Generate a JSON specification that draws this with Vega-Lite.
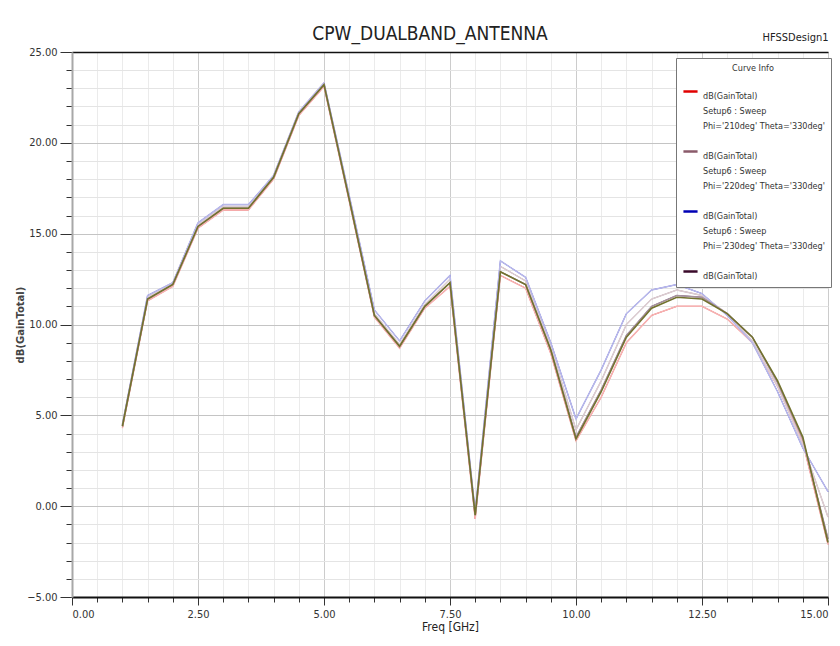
{
  "$schema": "https://vega.github.io/schema/vega-lite/v6.json",
  "autosize": {"type": "none"},
  "padding": {"left": 72, "top": 52, "right": 12, "bottom": 49},
  "width": 756,
  "height": 545,
  "background": "white",
  "title": {
    "text": "CPW_DUALBAND_ANTENNA",
    "font": "'Liberation Sans Narrow', 'DejaVu Sans Condensed', 'Liberation Sans', sans-serif",
    "fontSize": 19,
    "fontWeight": "normal",
    "color": "#222",
    "anchor": "middle",
    "dx": -20,
    "dy": 21,
    "offset": 8
  },
  "data": {
    "values": [
      {"curve": "Phi='210deg' Theta='330deg'", "freq": 1, "gain": 4.3},
      {"curve": "Phi='210deg' Theta='330deg'", "freq": 1.5, "gain": 11.3},
      {"curve": "Phi='210deg' Theta='330deg'", "freq": 2, "gain": 12.1},
      {"curve": "Phi='210deg' Theta='330deg'", "freq": 2.5, "gain": 15.3},
      {"curve": "Phi='210deg' Theta='330deg'", "freq": 3, "gain": 16.3},
      {"curve": "Phi='210deg' Theta='330deg'", "freq": 3.5, "gain": 16.3},
      {"curve": "Phi='210deg' Theta='330deg'", "freq": 4, "gain": 18.0},
      {"curve": "Phi='210deg' Theta='330deg'", "freq": 4.5, "gain": 21.5},
      {"curve": "Phi='210deg' Theta='330deg'", "freq": 5, "gain": 23.1},
      {"curve": "Phi='210deg' Theta='330deg'", "freq": 5.5, "gain": 16.8},
      {"curve": "Phi='210deg' Theta='330deg'", "freq": 6, "gain": 10.4},
      {"curve": "Phi='210deg' Theta='330deg'", "freq": 6.5, "gain": 8.7},
      {"curve": "Phi='210deg' Theta='330deg'", "freq": 7, "gain": 10.9},
      {"curve": "Phi='210deg' Theta='330deg'", "freq": 7.5, "gain": 12.1},
      {"curve": "Phi='210deg' Theta='330deg'", "freq": 8, "gain": -0.7},
      {"curve": "Phi='210deg' Theta='330deg'", "freq": 8.5, "gain": 12.7},
      {"curve": "Phi='210deg' Theta='330deg'", "freq": 9, "gain": 12.0},
      {"curve": "Phi='210deg' Theta='330deg'", "freq": 9.5, "gain": 8.4},
      {"curve": "Phi='210deg' Theta='330deg'", "freq": 10, "gain": 3.6},
      {"curve": "Phi='210deg' Theta='330deg'", "freq": 10.5, "gain": 6.0},
      {"curve": "Phi='210deg' Theta='330deg'", "freq": 11, "gain": 9.0},
      {"curve": "Phi='210deg' Theta='330deg'", "freq": 11.5, "gain": 10.5},
      {"curve": "Phi='210deg' Theta='330deg'", "freq": 12, "gain": 11.0},
      {"curve": "Phi='210deg' Theta='330deg'", "freq": 12.5, "gain": 11.0},
      {"curve": "Phi='210deg' Theta='330deg'", "freq": 13, "gain": 10.3},
      {"curve": "Phi='210deg' Theta='330deg'", "freq": 13.5, "gain": 9.0},
      {"curve": "Phi='210deg' Theta='330deg'", "freq": 14, "gain": 6.6},
      {"curve": "Phi='210deg' Theta='330deg'", "freq": 14.5, "gain": 3.5},
      {"curve": "Phi='210deg' Theta='330deg'", "freq": 15, "gain": -2.1},

      {"curve": "Phi='220deg' Theta='330deg'", "freq": 1, "gain": 4.5},
      {"curve": "Phi='220deg' Theta='330deg'", "freq": 1.5, "gain": 11.5},
      {"curve": "Phi='220deg' Theta='330deg'", "freq": 2, "gain": 12.3},
      {"curve": "Phi='220deg' Theta='330deg'", "freq": 2.5, "gain": 15.5},
      {"curve": "Phi='220deg' Theta='330deg'", "freq": 3, "gain": 16.5},
      {"curve": "Phi='220deg' Theta='330deg'", "freq": 3.5, "gain": 16.5},
      {"curve": "Phi='220deg' Theta='330deg'", "freq": 4, "gain": 18.2},
      {"curve": "Phi='220deg' Theta='330deg'", "freq": 4.5, "gain": 21.7},
      {"curve": "Phi='220deg' Theta='330deg'", "freq": 5, "gain": 23.3},
      {"curve": "Phi='220deg' Theta='330deg'", "freq": 5.5, "gain": 17.0},
      {"curve": "Phi='220deg' Theta='330deg'", "freq": 6, "gain": 10.6},
      {"curve": "Phi='220deg' Theta='330deg'", "freq": 6.5, "gain": 8.9},
      {"curve": "Phi='220deg' Theta='330deg'", "freq": 7, "gain": 11.1},
      {"curve": "Phi='220deg' Theta='330deg'", "freq": 7.5, "gain": 12.5},
      {"curve": "Phi='220deg' Theta='330deg'", "freq": 8, "gain": -0.4},
      {"curve": "Phi='220deg' Theta='330deg'", "freq": 8.5, "gain": 13.2},
      {"curve": "Phi='220deg' Theta='330deg'", "freq": 9, "gain": 12.4},
      {"curve": "Phi='220deg' Theta='330deg'", "freq": 9.5, "gain": 8.8},
      {"curve": "Phi='220deg' Theta='330deg'", "freq": 10, "gain": 4.2},
      {"curve": "Phi='220deg' Theta='330deg'", "freq": 10.5, "gain": 6.9},
      {"curve": "Phi='220deg' Theta='330deg'", "freq": 11, "gain": 10.0},
      {"curve": "Phi='220deg' Theta='330deg'", "freq": 11.5, "gain": 11.4},
      {"curve": "Phi='220deg' Theta='330deg'", "freq": 12, "gain": 11.9},
      {"curve": "Phi='220deg' Theta='330deg'", "freq": 12.5, "gain": 11.6},
      {"curve": "Phi='220deg' Theta='330deg'", "freq": 13, "gain": 10.6},
      {"curve": "Phi='220deg' Theta='330deg'", "freq": 13.5, "gain": 9.1},
      {"curve": "Phi='220deg' Theta='330deg'", "freq": 14, "gain": 6.6},
      {"curve": "Phi='220deg' Theta='330deg'", "freq": 14.5, "gain": 3.4},
      {"curve": "Phi='220deg' Theta='330deg'", "freq": 15, "gain": -0.6},

      {"curve": "Phi='230deg' Theta='330deg'", "freq": 1, "gain": 4.5},
      {"curve": "Phi='230deg' Theta='330deg'", "freq": 1.5, "gain": 11.6},
      {"curve": "Phi='230deg' Theta='330deg'", "freq": 2, "gain": 12.3},
      {"curve": "Phi='230deg' Theta='330deg'", "freq": 2.5, "gain": 15.6},
      {"curve": "Phi='230deg' Theta='330deg'", "freq": 3, "gain": 16.6},
      {"curve": "Phi='230deg' Theta='330deg'", "freq": 3.5, "gain": 16.6},
      {"curve": "Phi='230deg' Theta='330deg'", "freq": 4, "gain": 18.2},
      {"curve": "Phi='230deg' Theta='330deg'", "freq": 4.5, "gain": 21.7},
      {"curve": "Phi='230deg' Theta='330deg'", "freq": 5, "gain": 23.3},
      {"curve": "Phi='230deg' Theta='330deg'", "freq": 5.5, "gain": 17.1},
      {"curve": "Phi='230deg' Theta='330deg'", "freq": 6, "gain": 10.8},
      {"curve": "Phi='230deg' Theta='330deg'", "freq": 6.5, "gain": 9.1},
      {"curve": "Phi='230deg' Theta='330deg'", "freq": 7, "gain": 11.3},
      {"curve": "Phi='230deg' Theta='330deg'", "freq": 7.5, "gain": 12.7},
      {"curve": "Phi='230deg' Theta='330deg'", "freq": 8, "gain": -0.3},
      {"curve": "Phi='230deg' Theta='330deg'", "freq": 8.5, "gain": 13.5},
      {"curve": "Phi='230deg' Theta='330deg'", "freq": 9, "gain": 12.6},
      {"curve": "Phi='230deg' Theta='330deg'", "freq": 9.5, "gain": 9.0},
      {"curve": "Phi='230deg' Theta='330deg'", "freq": 10, "gain": 4.8},
      {"curve": "Phi='230deg' Theta='330deg'", "freq": 10.5, "gain": 7.5},
      {"curve": "Phi='230deg' Theta='330deg'", "freq": 11, "gain": 10.6},
      {"curve": "Phi='230deg' Theta='330deg'", "freq": 11.5, "gain": 11.9},
      {"curve": "Phi='230deg' Theta='330deg'", "freq": 12, "gain": 12.2},
      {"curve": "Phi='230deg' Theta='330deg'", "freq": 12.5, "gain": 11.7},
      {"curve": "Phi='230deg' Theta='330deg'", "freq": 13, "gain": 10.5},
      {"curve": "Phi='230deg' Theta='330deg'", "freq": 13.5, "gain": 9.0},
      {"curve": "Phi='230deg' Theta='330deg'", "freq": 14, "gain": 6.3},
      {"curve": "Phi='230deg' Theta='330deg'", "freq": 14.5, "gain": 3.2},
      {"curve": "Phi='230deg' Theta='330deg'", "freq": 15, "gain": 0.8},

      {"curve": "Phi='240deg' Theta='330deg'", "freq": 1, "gain": 4.4},
      {"curve": "Phi='240deg' Theta='330deg'", "freq": 1.5, "gain": 11.4},
      {"curve": "Phi='240deg' Theta='330deg'", "freq": 2, "gain": 12.2},
      {"curve": "Phi='240deg' Theta='330deg'", "freq": 2.5, "gain": 15.4},
      {"curve": "Phi='240deg' Theta='330deg'", "freq": 3, "gain": 16.4},
      {"curve": "Phi='240deg' Theta='330deg'", "freq": 3.5, "gain": 16.4},
      {"curve": "Phi='240deg' Theta='330deg'", "freq": 4, "gain": 18.1},
      {"curve": "Phi='240deg' Theta='330deg'", "freq": 4.5, "gain": 21.6},
      {"curve": "Phi='240deg' Theta='330deg'", "freq": 5, "gain": 23.2},
      {"curve": "Phi='240deg' Theta='330deg'", "freq": 5.5, "gain": 16.9},
      {"curve": "Phi='240deg' Theta='330deg'", "freq": 6, "gain": 10.5},
      {"curve": "Phi='240deg' Theta='330deg'", "freq": 6.5, "gain": 8.8},
      {"curve": "Phi='240deg' Theta='330deg'", "freq": 7, "gain": 11.0},
      {"curve": "Phi='240deg' Theta='330deg'", "freq": 7.5, "gain": 12.3},
      {"curve": "Phi='240deg' Theta='330deg'", "freq": 8, "gain": -0.5},
      {"curve": "Phi='240deg' Theta='330deg'", "freq": 8.5, "gain": 12.9},
      {"curve": "Phi='240deg' Theta='330deg'", "freq": 9, "gain": 12.2},
      {"curve": "Phi='240deg' Theta='330deg'", "freq": 9.5, "gain": 8.6},
      {"curve": "Phi='240deg' Theta='330deg'", "freq": 10, "gain": 3.8},
      {"curve": "Phi='240deg' Theta='330deg'", "freq": 10.5, "gain": 6.4},
      {"curve": "Phi='240deg' Theta='330deg'", "freq": 11, "gain": 9.4},
      {"curve": "Phi='240deg' Theta='330deg'", "freq": 11.5, "gain": 11.0},
      {"curve": "Phi='240deg' Theta='330deg'", "freq": 12, "gain": 11.6},
      {"curve": "Phi='240deg' Theta='330deg'", "freq": 12.5, "gain": 11.5},
      {"curve": "Phi='240deg' Theta='330deg'", "freq": 13, "gain": 10.6},
      {"curve": "Phi='240deg' Theta='330deg'", "freq": 13.5, "gain": 9.3},
      {"curve": "Phi='240deg' Theta='330deg'", "freq": 14, "gain": 6.8},
      {"curve": "Phi='240deg' Theta='330deg'", "freq": 14.5, "gain": 3.7},
      {"curve": "Phi='240deg' Theta='330deg'", "freq": 15, "gain": -1.8},

      {"curve": "Phi='250deg' Theta='330deg'", "freq": 1, "gain": 4.4},
      {"curve": "Phi='250deg' Theta='330deg'", "freq": 1.5, "gain": 11.4},
      {"curve": "Phi='250deg' Theta='330deg'", "freq": 2, "gain": 12.2},
      {"curve": "Phi='250deg' Theta='330deg'", "freq": 2.5, "gain": 15.4},
      {"curve": "Phi='250deg' Theta='330deg'", "freq": 3, "gain": 16.4},
      {"curve": "Phi='250deg' Theta='330deg'", "freq": 3.5, "gain": 16.4},
      {"curve": "Phi='250deg' Theta='330deg'", "freq": 4, "gain": 18.1},
      {"curve": "Phi='250deg' Theta='330deg'", "freq": 4.5, "gain": 21.6},
      {"curve": "Phi='250deg' Theta='330deg'", "freq": 5, "gain": 23.2},
      {"curve": "Phi='250deg' Theta='330deg'", "freq": 5.5, "gain": 16.9},
      {"curve": "Phi='250deg' Theta='330deg'", "freq": 6, "gain": 10.5},
      {"curve": "Phi='250deg' Theta='330deg'", "freq": 6.5, "gain": 8.8},
      {"curve": "Phi='250deg' Theta='330deg'", "freq": 7, "gain": 11.0},
      {"curve": "Phi='250deg' Theta='330deg'", "freq": 7.5, "gain": 12.3},
      {"curve": "Phi='250deg' Theta='330deg'", "freq": 8, "gain": -0.5},
      {"curve": "Phi='250deg' Theta='330deg'", "freq": 8.5, "gain": 12.9},
      {"curve": "Phi='250deg' Theta='330deg'", "freq": 9, "gain": 12.2},
      {"curve": "Phi='250deg' Theta='330deg'", "freq": 9.5, "gain": 8.6},
      {"curve": "Phi='250deg' Theta='330deg'", "freq": 10, "gain": 3.7},
      {"curve": "Phi='250deg' Theta='330deg'", "freq": 10.5, "gain": 6.3},
      {"curve": "Phi='250deg' Theta='330deg'", "freq": 11, "gain": 9.3},
      {"curve": "Phi='250deg' Theta='330deg'", "freq": 11.5, "gain": 10.9},
      {"curve": "Phi='250deg' Theta='330deg'", "freq": 12, "gain": 11.5},
      {"curve": "Phi='250deg' Theta='330deg'", "freq": 12.5, "gain": 11.4},
      {"curve": "Phi='250deg' Theta='330deg'", "freq": 13, "gain": 10.6},
      {"curve": "Phi='250deg' Theta='330deg'", "freq": 13.5, "gain": 9.3},
      {"curve": "Phi='250deg' Theta='330deg'", "freq": 14, "gain": 6.9},
      {"curve": "Phi='250deg' Theta='330deg'", "freq": 14.5, "gain": 3.8},
      {"curve": "Phi='250deg' Theta='330deg'", "freq": 15, "gain": -2.0}
    ]
  },
  "layer": [
    {
      "transform": [{"filter": "datum.curve != \"Phi='250deg' Theta='330deg'\""}],
      "mark": {"type": "line", "strokeWidth": 0.8},
      "encoding": {
        "x": {
          "field": "freq",
          "type": "quantitative",
          "scale": {"domain": [0, 15], "nice": false},
          "title": "Freq [GHz]",
          "axis": {
            "orient": "bottom",
            "values": [0, 0.5, 1, 1.5, 2, 2.5, 3, 3.5, 4, 4.5, 5, 5.5, 6, 6.5, 7, 7.5, 8, 8.5, 9, 9.5, 10, 10.5, 11, 11.5, 12, 12.5, 13, 13.5, 14, 14.5, 15],
            "tickCount": 100,
            "labelExpr": "datum.value % 2.5 === 0 ? format(datum.value, '.2f') : ''",
            "labelOverlap": false,
            "grid": true,
            "gridColor": {"condition": {"test": "datum.value % 2.5 === 0", "value": "#cccccc"}, "value": "#ebebeb"},
            "tickSize": {"condition": {"test": "datum.value % 2.5 === 0", "value": 8}, "value": 5},
            "tickColor": "#333",
            "domainColor": "#111",
            "domainWidth": 2,
            "labelFont": "'Liberation Sans Narrow', 'DejaVu Sans Condensed', 'Liberation Sans', sans-serif",
            "labelFontSize": 11,
            "labelColor": "#333",
            "labelPadding": 3,
            "titleFont": "'Liberation Sans Narrow', 'DejaVu Sans Condensed', 'Liberation Sans', sans-serif",
            "titleFontSize": 12,
            "titleFontWeight": "normal",
            "titleColor": "#222",
            "titlePadding": 2
          }
        },
        "y": {
          "field": "gain",
          "type": "quantitative",
          "scale": {"domain": [-5, 25], "nice": false},
          "title": "dB(GainTotal)",
          "axis": {
            "values": [-5, -4, -3, -2, -1, 0, 1, 2, 3, 4, 5, 6, 7, 8, 9, 10, 11, 12, 13, 14, 15, 16, 17, 18, 19, 20, 21, 22, 23, 24, 25],
            "tickCount": 100,
            "labelExpr": "datum.value % 5 === 0 ? format(datum.value, '.2f') : ''",
            "labelOverlap": false,
            "grid": true,
            "gridColor": {"condition": {"test": "datum.value % 5 === 0", "value": "#c4c4c4"}, "value": "#e4e4e4"},
            "tickSize": {"condition": {"test": "datum.value % 5 === 0", "value": 12}, "value": 6},
            "tickColor": "#333",
            "domainColor": "#a8a8a8",
            "domainWidth": 2,
            "labelFont": "'Liberation Sans Narrow', 'DejaVu Sans Condensed', 'Liberation Sans', sans-serif",
            "labelFontSize": 11,
            "labelColor": "#333",
            "labelPadding": 3,
            "titleFont": "DejaVu Sans",
            "titleFontSize": 10,
            "titleFontWeight": "bold",
            "titleColor": "#444",
            "titlePadding": 1
          }
        },
        "color": {
          "field": "curve",
          "type": "nominal",
          "scale": {
            "domain": ["Phi='210deg' Theta='330deg'", "Phi='220deg' Theta='330deg'", "Phi='230deg' Theta='330deg'", "Phi='240deg' Theta='330deg'"],
            "range": ["#e00000", "#8a5a6a", "#0000b4", "#3a0a2a"]
          },
          "legend": {
            "orient": "none",
            "legendX": 604,
            "legendY": 6,
            "title": "Curve Info",
            "titleAnchor": "middle",
            "titleFont": "'Liberation Sans Narrow', 'DejaVu Sans Condensed', 'Liberation Sans', sans-serif",
            "titleFontSize": 9,
            "titleFontWeight": "normal",
            "titleColor": "#333",
            "titlePadding": 10,
            "labelExpr": "datum.label == \"Phi='240deg' Theta='330deg'\" ? 'dB(GainTotal)' : ['dB(GainTotal)', 'Setup6 : Sweep', datum.label]",
            "labelFont": "'Liberation Sans Narrow', 'DejaVu Sans Condensed', 'Liberation Sans', sans-serif",
            "labelFontSize": 9,
            "labelColor": "#333",
            "labelBaseline": "top",
            "labelOffset": 4,
            "symbolType": "stroke",
            "symbolStrokeWidth": 2.5,
            "symbolSize": 200,
            "rowPadding": 12,
            "padding": 6,
            "fillColor": "white",
            "strokeColor": "#777",
            "labelLimit": 200,
            "encode": {
              "labels": {"update": {"lineHeight": {"value": 15}}}
            }
          }
        }
      }
    },
    {
      "transform": [{"filter": "datum.curve != \"Phi='250deg' Theta='330deg'\""}],
      "mark": {"type": "line", "strokeWidth": 1.5},
      "encoding": {
        "x": {"field": "freq", "type": "quantitative", "axis": null},
        "y": {"field": "gain", "type": "quantitative"},
        "stroke": {
          "field": "curve",
          "type": "nominal",
          "scale": {
            "domain": ["Phi='210deg' Theta='330deg'", "Phi='220deg' Theta='330deg'", "Phi='230deg' Theta='330deg'", "Phi='240deg' Theta='330deg'"],
            "range": ["#f6b3b3", "#dccdd2", "#b8b8ea", "#a6919f"]
          },
          "legend": null
        }
      }
    },
    {
      "transform": [{"filter": "datum.curve == \"Phi='250deg' Theta='330deg'\""}],
      "mark": {"type": "line", "color": "#72722e", "strokeWidth": 1.6},
      "encoding": {
        "x": {
          "field": "freq",
          "type": "quantitative",
          "title": "HFSSDesign1",
          "axis": {
            "orient": "top",
            "labels": false,
            "ticks": false,
            "grid": false,
            "domainColor": "#111",
            "domainWidth": 1.5,
            "titleAnchor": "end",
            "titleFont": "'Liberation Sans Narrow', 'DejaVu Sans Condensed', 'Liberation Sans', sans-serif",
            "titleFontSize": 11,
            "titleFontWeight": "normal",
            "titleColor": "#222",
            "titlePadding": 10
          }
        },
        "y": {"field": "gain", "type": "quantitative"}
      }
    }
  ],
  "resolve": {"axis": {"x": "independent"}},
  "config": {"view": {"stroke": null}}
}
